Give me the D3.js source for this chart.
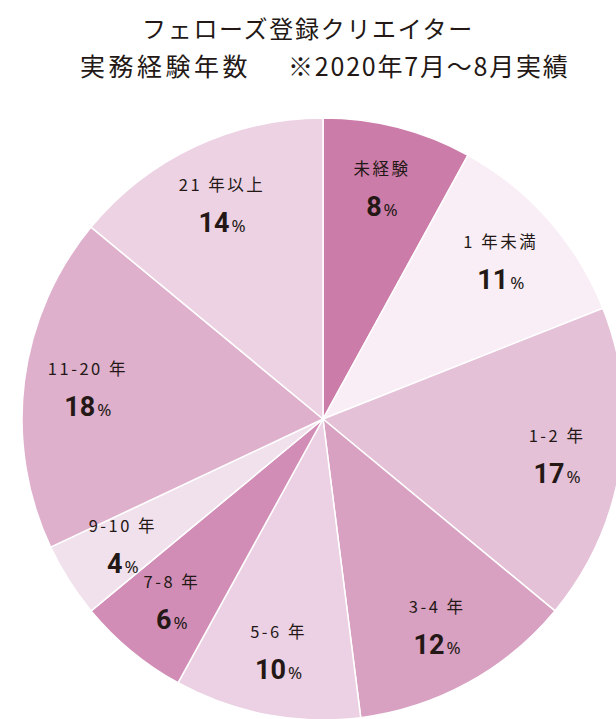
<!DOCTYPE html>
<html>
<head>
<meta charset="utf-8">
<script src="https://cdn.jsdelivr.net/npm/d3@7"></script>
<style>
  html, body { margin: 0; padding: 0; background: #fff; }
  svg { display: block; }
</style>
</head>
<body>
<div id="chart"></div>
<script>
// ---- Data ----
const titleLine1 = 'フェローズ登録クリエイター';
const titleLine2a = '実務経験年数';
const titleLine2b = '※2020年7月〜8月実績';
const categories = ['未経験', '1 年未満', '1-2 年', '3-4 年', '5-6 年', '7-8 年', '9-10 年', '11-20 年', '21 年以上'];
const shares = [8, 11, 17, 12, 10, 6, 4, 18, 14];
const sliceColors = ['#cc7ca8', '#f9eef6', '#e5c1d8', '#d8a0c1', '#ebd1e3', '#d18db5', '#f1e1ec', '#dfb0cc', '#ecd2e3'];

const width = 616, height = 719;
const cx = 323, cy = 419, radius = 301;
const ink = '#231815';
const cjk = '"Noto Sans CJK JP", sans-serif';

const svg = d3.select('#chart').append('svg')
  .attr('width', width)
  .attr('height', height);

// ---- Title ----
svg.append('text')
  .attr('x', 142)
  .attr('y', 38)
  .attr('font-family', cjk)
  .attr('font-size', '24px')
  .attr('letter-spacing', '1.7px')
  .attr('fill', ink)
  .text(titleLine1);

svg.append('text')
  .attr('x', 80)
  .attr('y', 76)
  .attr('font-family', cjk)
  .attr('font-size', '25px')
  .attr('letter-spacing', '3.5px')
  .attr('fill', ink)
  .text(titleLine2a);

svg.append('text')
  .attr('x', 288)
  .attr('y', 76)
  .attr('font-family', cjk)
  .attr('font-size', '25px')
  .attr('letter-spacing', '1.8px')
  .attr('fill', ink)
  .text(titleLine2b);

// ---- Pie ----
const data = categories.map((c, i) => ({ label: c, value: shares[i], color: sliceColors[i] }));

const pie = d3.pie()
  .sort(null)
  .value(d => d.value);

const arc = d3.arc()
  .innerRadius(0)
  .outerRadius(radius);

const labelArc = d3.arc()
  .innerRadius(237)
  .outerRadius(237);

const g = svg.append('g').attr('transform', `translate(${cx},${cy})`);

const arcs = pie(data);

g.selectAll('path.slice')
  .data(arcs)
  .join('path')
  .attr('class', 'slice')
  .attr('d', arc)
  .attr('fill', d => d.data.color)
  .attr('stroke', '#fff')
  .attr('stroke-width', 1.5)
  .attr('stroke-linejoin', 'round');

// ---- Labels ----
const labels = g.selectAll('g.lbl')
  .data(arcs)
  .join('g')
  .attr('class', 'lbl')
  .attr('transform', d => {
    const [x, y] = labelArc.centroid(d);
    return `translate(${x},${y})`;
  });

labels.append('text')
  .attr('y', -14)
  .attr('text-anchor', 'middle')
  .attr('font-family', cjk)
  .attr('font-size', '16.5px')
  .attr('letter-spacing', '2.5px')
  .attr('fill', ink)
  .text(d => d.data.label);

const pct = labels.append('text')
  .attr('y', 27)
  .attr('text-anchor', 'middle')
  .attr('fill', ink);

pct.append('tspan')
  .attr('font-family', 'Roboto, "Noto Sans", sans-serif')
  .attr('font-weight', 'bold')
  .attr('font-size', '27px')
  .text(d => d.data.value);

pct.append('tspan')
  .attr('dx', 2)
  .attr('font-family', '"Noto Sans", sans-serif')
  .attr('font-size', '17px')
  .text('%');
</script>
</body>
</html>
